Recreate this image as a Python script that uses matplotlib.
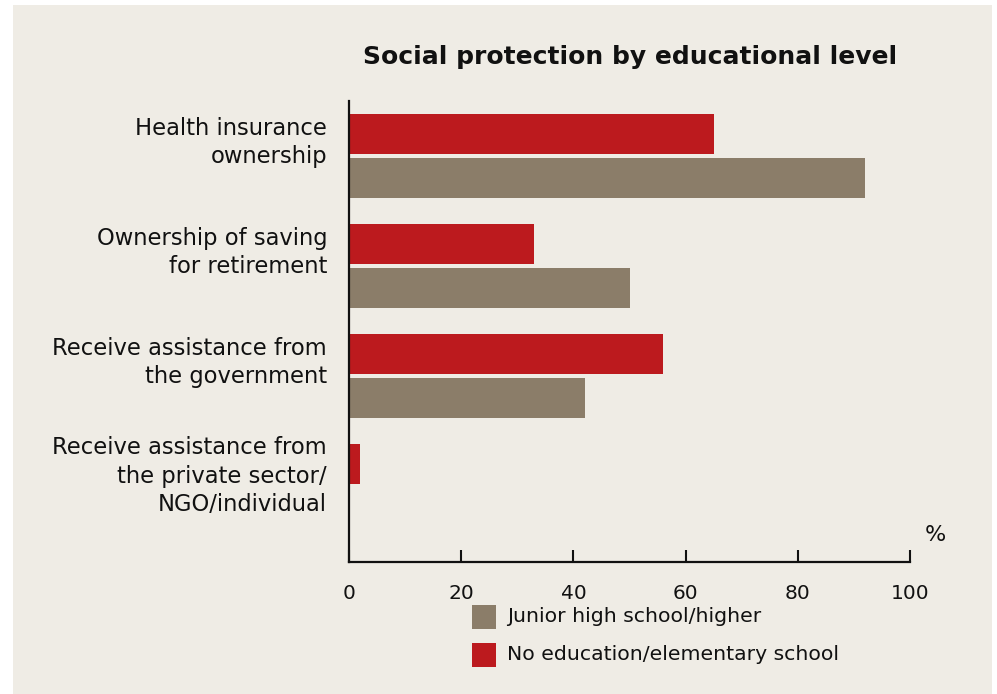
import matplotlib
matplotlib.use("Agg")
import matplotlib.pyplot as plt
from matplotlib.patches import Rectangle
import numpy as np

plt.rcParams['font.family'] = ['DejaVu Sans']

categories = [
    "Health insurance\nownership",
    "Ownership of saving\nfor retirement",
    "Receive assistance from\nthe government",
    "Receive assistance from\nthe private sector/\nNGO/individual",
]
series_names = ["Junior high school/higher", "No education/elementary school"]
junior_high = [92, 50, 42, 0]
no_education = [65, 33, 56, 2]
x_ticks = [0, 20, 40, 60, 80, 100]
title = "Social protection by educational level"

RED = "#BC1A1E"
GREY = "#8B7D69"
BG = "#EFECE5"

W, H = 997, 694
fig = plt.figure(figsize=(W / 100, H / 100), dpi=100)
fig.patch.set_facecolor("white")
fig.add_artist(Rectangle((13 / W, 0), (992 - 13) / W, (694 - 5) / H,
                         transform=fig.transFigure, facecolor=BG, edgecolor="none", zorder=-10))

ax = fig.add_axes([349 / W, 1 - 562 / H, (910 - 349) / W, (562 - 101) / H])
ax.set_facecolor("none")

y = np.arange(len(categories))
h = 40 / 110
ax.barh(y - 0.2, no_education, height=h, color=RED, zorder=2)
ax.barh(y + 0.2, junior_high, height=h, color=GREY, zorder=2)

ax.set_xlim(0, 100)
ax.set_ylim(3 + 76 / 110, -0.5)
ax.set_xticks(x_ticks)
ax.set_xticklabels([str(t) for t in x_ticks], fontsize=14.5)
ax.tick_params(axis='x', direction='in', length=9, width=1.5, pad=16, colors="#111111")
ax.set_yticks([])
for i, lab in enumerate(categories):
    off = -0.12 if lab.count("\n") < 2 else -0.09
    ax.text(-22 / 5.61, i + off, lab, fontsize=16.3, linespacing=1.3, color="#111111",
            ha="right", va="center", multialignment="right")
for s in ["top", "right"]:
    ax.spines[s].set_visible(False)
for s in ["left", "bottom"]:
    ax.spines[s].set_linewidth(1.6)
    ax.spines[s].set_color("#111111")

fig.text(935 / W, 1 - 535 / H, "%", fontsize=16, ha="center", va="center", color="#111111")
fig.text(630 / W, 1 - 57 / H, title, fontsize=18, fontweight="bold", ha="center", va="center", color="#111111")

# legend
leg_items = [(series_names[0], GREY), (series_names[1], RED)]
for i, (name, col) in enumerate(leg_items):
    top = 605 + i * 38
    fig.add_artist(Rectangle((472 / W, 1 - (top + 24) / H), 24 / W, 24 / H,
                             transform=fig.transFigure, facecolor=col, edgecolor="none"))
    fig.text(507 / W, 1 - (top + 12) / H, name, fontsize=14.7, ha="left", va="center", color="#111111")

fig.savefig("out.png", dpi=100, facecolor=fig.get_facecolor())
